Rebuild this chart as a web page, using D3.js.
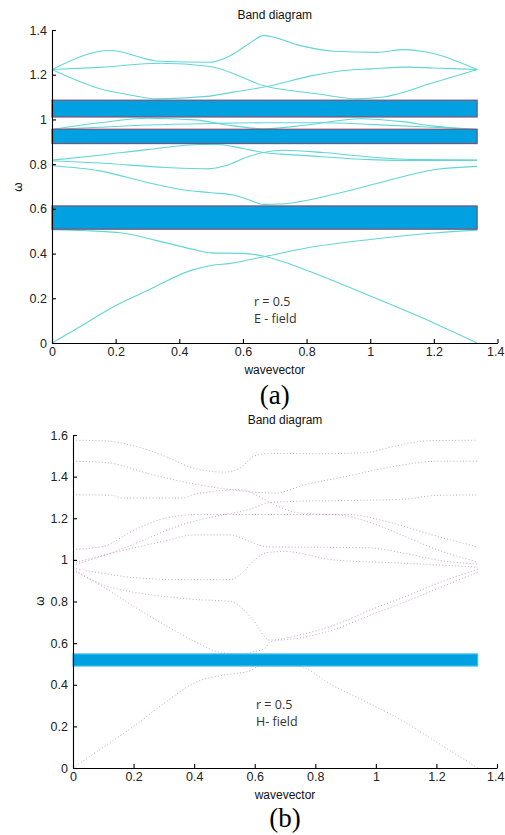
<!DOCTYPE html>
<html><head><meta charset="utf-8">
<script src="https://cdn.jsdelivr.net/npm/d3@7"></script>
<style>body{margin:0;background:#fff} svg{display:block}</style>
</head><body>
<svg id="c" width="505" height="835"></svg>
<script>
// ---------- data ----------
const xTicks = [0, 0.2, 0.4, 0.6, 0.8, 1, 1.2, 1.4];
const xTickLabels = ["0", "0.2", "0.4", "0.6", "0.8", "1", "1.2", "1.4"];
const aYTicks = [0, 0.2, 0.4, 0.6, 0.8, 1, 1.2, 1.4];
const aYTickLabels = ["0", "0.2", "0.4", "0.6", "0.8", "1", "1.2", "1.4"];
const bYTicks = [0, 0.2, 0.4, 0.6, 0.8, 1, 1.2, 1.4, 1.6];
const bYTickLabels = ["0", "0.2", "0.4", "0.6", "0.8", "1", "1.2", "1.4", "1.6"];

// panel (a) E-field bands: [wavevector, omega]
const eBand1 = [[0,0],[0.1,0.083],[0.19,0.16],[0.3,0.235],[0.44,0.326],[0.5,0.347],[0.56,0.356],[0.67,0.387],[0.8,0.425],[1.0,0.463],[1.2,0.492],[1.336,0.505]];
const eBand2 = [[0,0.507],[0.1,0.503],[0.22,0.492],[0.33,0.458],[0.44,0.42],[0.5,0.403],[0.6,0.401],[0.67,0.387],[0.73,0.362],[0.8,0.325],[1.0,0.21],[1.2,0.09],[1.336,0]];
const eBand3 = [[0,0.793],[0.15,0.77],[0.3,0.718],[0.4,0.688],[0.5,0.672],[0.57,0.662],[0.62,0.64],[0.664,0.62],[0.72,0.622],[0.9,0.67],[1.05,0.725],[1.2,0.775],[1.336,0.79]];
const eBand4 = [[0,0.815],[0.15,0.805],[0.36,0.785],[0.49,0.779],[0.55,0.795],[0.62,0.835],[0.664,0.852],[0.73,0.862],[0.85,0.852],[1.0,0.832],[1.15,0.82],[1.336,0.818]];
const eBand5 = [[0,0.818],[0.15,0.84],[0.3,0.865],[0.47,0.888],[0.53,0.887],[0.6,0.87],[0.664,0.852],[0.8,0.838],[1.0,0.82],[1.15,0.816],[1.336,0.817]];
const eBand6 = [[0,0.955],[0.15,0.965],[0.3,0.975],[0.5,0.982],[0.67,0.985],[0.85,0.985],[1.0,0.978],[1.2,0.965],[1.336,0.955]];
const eBand7 = [[0,0.955],[0.15,0.985],[0.3,1.005],[0.45,0.998],[0.55,0.975],[0.67,0.958],[0.8,0.975],[0.97,1.003],[1.1,0.99],[1.2,0.97],[1.336,0.955]];
const eBand8 = [[0,1.223],[0.151,1.137],[0.25,1.108],[0.329,1.092],[0.486,1.103],[0.57,1.122],[0.675,1.147],[0.817,1.196],[0.92,1.219],[1.0,1.226],[1.115,1.234],[1.2,1.23],[1.336,1.223]];
const eBand9 = [[0,1.223],[0.151,1.233],[0.34,1.251],[0.497,1.237],[0.675,1.147],[0.832,1.115],[0.958,1.092],[1.042,1.1],[1.2,1.165],[1.336,1.223]];
const eBand10 = [[0,1.223],[0.182,1.308],[0.34,1.26],[0.497,1.256],[0.56,1.285],[0.62,1.34],[0.665,1.375],[0.78,1.33],[0.885,1.305],[1.021,1.3],[1.105,1.312],[1.168,1.304],[1.336,1.223]];
const eGaps = [[1.011, 1.086], [0.892, 0.956], [0.509, 0.613]];

// panel (b) H-field bands
const hBand1 = [[0,0],[0.1,0.1],[0.2,0.2],[0.3,0.31],[0.41,0.415],[0.5,0.447],[0.58,0.465],[0.62,0.49],[0.74,0.49],[0.854,0.399],[0.95,0.33],[1.074,0.239],[1.2,0.125],[1.336,0]];
const hBand2 = [[0,0.95],[0.1,0.87],[0.193,0.783],[0.304,0.687],[0.414,0.599],[0.49,0.554],[0.55,0.548],[0.6,0.56],[0.634,0.575],[0.65,0.605],[0.75,0.625],[0.85,0.66],[1.0,0.745],[1.1,0.8],[1.2,0.86],[1.336,0.94]];
const hBand3 = [[0,0.955],[0.1,0.88],[0.2,0.845],[0.3,0.825],[0.4,0.81],[0.52,0.8],[0.59,0.72],[0.65,0.615],[0.75,0.64],[0.85,0.68],[1.0,0.77],[1.1,0.825],[1.2,0.885],[1.336,0.955]];
const hBand4 = [[0,0.96],[0.1,0.935],[0.2,0.915],[0.35,0.905],[0.52,0.905],[0.56,0.94],[0.6,1.0],[0.64,1.035],[0.7,1.04],[0.86,1.0],[1.08,0.985],[1.336,0.965]];
const hBand5 = [[0,0.985],[0.15,1.04],[0.3,1.09],[0.4,1.12],[0.52,1.12],[0.58,1.09],[0.64,1.063],[0.97,1.058],[1.1,1.03],[1.2,1.0],[1.336,0.98]];
const hBand6 = [[0,1.05],[0.1,1.065],[0.194,1.137],[0.304,1.2],[0.414,1.218],[0.9,1.218],[1.074,1.169],[1.184,1.121],[1.336,1.062]];
const hBand7 = [[0,0.975],[0.139,1.04],[0.249,1.105],[0.359,1.169],[0.469,1.209],[0.579,1.241],[0.65,1.275],[0.75,1.282],[0.9,1.285],[1.1,1.292],[1.2,1.31],[1.336,1.312]];
const hBand8 = [[0,1.313],[0.13,1.31],[0.16,1.297],[0.36,1.297],[0.4,1.315],[0.557,1.337],[0.62,1.3],[0.68,1.255],[0.75,1.225],[0.88,1.215],[1.0,1.17],[1.1,1.11],[1.2,1.05],[1.336,0.99]];
const hBand9 = [[0,1.474],[0.117,1.466],[0.26,1.41],[0.414,1.361],[0.524,1.337],[0.667,1.321],[0.766,1.361],[0.898,1.4],[1.03,1.441],[1.206,1.474],[1.336,1.474]];
const hBand10 = [[0,1.575],[0.1,1.572],[0.22,1.54],[0.3,1.5],[0.4,1.44],[0.5,1.422],[0.55,1.44],[0.6,1.5],[0.65,1.512],[0.8,1.51],[0.96,1.515],[1.06,1.545],[1.17,1.572],[1.336,1.575]];
const hGaps = [[0.49, 0.548]];
const kEnd = 1.336;

// ---------- drawing ----------
const svg = d3.select("#c");
const FONT = "'Liberation Sans', Arial, sans-serif";

function panel(opt) {
  const x = d3.scaleLinear().domain([0, 1.4]).range([opt.x0, opt.x1]);
  const y = d3.scaleLinear().domain([0, opt.yMax]).range([opt.y0, opt.y1]);
  const g = svg.append("g");

  const line = d3.line().x(d => x(d[0])).y(d => y(d[1])).curve(d3.curveMonotoneX);
  g.selectAll("path.band").data(opt.bands).join("path")
    .attr("class", "band")
    .attr("d", line)
    .attr("fill", "none")
    .attr("stroke", opt.lineColor)
    .attr("stroke-width", opt.lineWidth)
    .attr("stroke-dasharray", opt.dash || null)
    .attr("opacity", opt.lineOpacity || 1);

  g.selectAll("rect.gap").data(opt.gaps).join("rect")
    .attr("class", "gap")
    .attr("x", x(0))
    .attr("width", x(kEnd) - x(0))
    .attr("y", d => y(d[1]))
    .attr("height", d => y(d[0]) - y(d[1]))
    .attr("fill", "#00a0e1")
    .attr("stroke", opt.gapStroke)
    .attr("stroke-width", 1.2);

  const xa = d3.axisBottom(x).tickValues(xTicks)
    .tickFormat((d, i) => xTickLabels[i]).tickSizeInner(-4).tickSizeOuter(0).tickPadding(4);
  const ya = d3.axisLeft(y).tickValues(opt.yTicks)
    .tickFormat((d, i) => opt.yLabels[i]).tickSizeInner(-4).tickSizeOuter(0).tickPadding(5);

  const gx = g.append("g").attr("transform", `translate(0,${opt.y0})`).call(xa);
  const gy = g.append("g").attr("transform", `translate(${opt.x0},0)`).call(ya);
  [gx, gy].forEach(a => {
    a.selectAll("path,line").attr("stroke", "#000").attr("stroke-width", 1.1);
    a.selectAll("text").attr("font-family", FONT).attr("font-size", 12.5).attr("fill", "#222");
  });
  // keep the last x tick label inside the page
  gx.selectAll(".tick text").filter(d => d === 1.4)
    .attr("text-anchor", "end").attr("dx", 505 - opt.x1 - 1);

  g.append("text").attr("x", (opt.x0 + opt.x1) / 2).attr("y", opt.y1 - 11)
    .attr("text-anchor", "middle").attr("font-family", FONT).attr("font-size", 12)
    .attr("fill", "#111").text("Band diagram");

  g.append("text").attr("x", (opt.x0 + opt.x1) / 2).attr("y", opt.y0 + 31)
    .attr("text-anchor", "middle").attr("font-family", FONT).attr("font-size", 12)
    .attr("fill", "#111").text("wavevector");

  g.append("text").attr("transform", `translate(${opt.wx},${opt.wy}) rotate(-90)`)
    .attr("text-anchor", "middle").attr("dominant-baseline", "central")
    .attr("font-family", FONT).attr("font-size", 12).attr("fill", "#111").text("ω");

  g.append("text").attr("x", opt.nx).attr("y", opt.ny)
    .attr("font-family", "'Open Sans', sans-serif").attr("font-size", 12.5).attr("fill", "#333")
    .text("r = 0.5");
  g.append("text").attr("x", opt.nx).attr("y", opt.ny + 16.5)
    .attr("font-family", "'Open Sans', sans-serif").attr("font-size", 12.5).attr("fill", "#333")
    .text(opt.field);

  g.append("text").attr("x", (opt.x0 + opt.x1) / 2).attr("y", opt.capY)
    .attr("text-anchor", "middle").attr("font-family", "'Liberation Serif', 'Times New Roman', serif")
    .attr("font-size", 27).attr("fill", "#000").text(opt.caption);
}

panel({
  x0: 52, x1: 497.5, y0: 343, y1: 30, yMax: 1.4,
  yTicks: aYTicks, yLabels: aYTickLabels,
  bands: [eBand1, eBand2, eBand3, eBand4, eBand5, eBand6, eBand7, eBand8, eBand9, eBand10],
  gaps: eGaps, gapStroke: "#7b5275",
  lineColor: "#62d6d6", lineWidth: 1.1,
  wx: 18, wy: 187, nx: 254, ny: 306, field: "E - field",
  caption: "(a)", capY: 404
});

panel({
  x0: 73, x1: 497, y0: 768, y1: 435, yMax: 1.6,
  yTicks: bYTicks, yLabels: bYTickLabels,
  bands: [hBand1, hBand2, hBand3, hBand4, hBand5, hBand6, hBand7, hBand8, hBand9, hBand10],
  gaps: hGaps, gapStroke: "#3cc0f0",
  lineColor: "#b070b0", lineWidth: 1, dash: "1,2.2", lineOpacity: 0.65,
  wx: 40, wy: 601, nx: 256, ny: 709, field: "H- field",
  caption: "(b)", capY: 827
});
</script>
</body></html>
